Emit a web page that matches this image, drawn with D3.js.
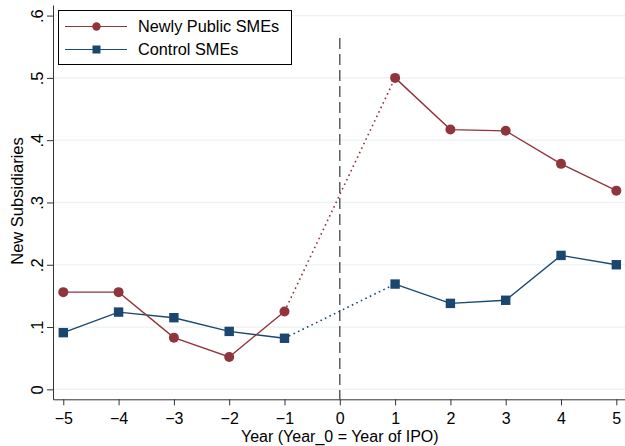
<!DOCTYPE html>
<html>
<head>
<meta charset="utf-8">
<script src="https://cdn.jsdelivr.net/npm/d3@7"></script>
<style>
  body { margin: 0; background: #fff; }
  svg { display: block; font-family: "Liberation Sans", Arial, sans-serif; }
</style>
</head>
<body>
<svg id="chart" width="625" height="446"></svg>
<script>
// years relative to IPO
const years = [-5, -4, -3, -2, -1, 1, 2, 3, 4, 5];
const newlyPublic = [0.156, 0.156, 0.083, 0.052, 0.125, 0.500, 0.417, 0.415, 0.362, 0.319];
const controlSMEs = [0.091, 0.124, 0.115, 0.093, 0.082, 0.169, 0.138, 0.143, 0.215, 0.200];
const xTicks = [-5, -4, -3, -2, -1, 0, 1, 2, 3, 4, 5];
const yTicks = [0, 0.1, 0.2, 0.3, 0.4, 0.5, 0.6];
const yTickLabels = ["0", ".1", ".2", ".3", ".4", ".5", ".6"];

const RED = "#90353b";
const BLUE = "#1a476f";
const GRID = "#eaf2f3";
const AXIS = "#333";
const FONT = "Liberation Sans, Arial, sans-serif";

const svg = d3.select("#chart");

const x = d3.scaleLinear().domain([-5.186, 5.157]).range([53, 625]);
const y = d3.scaleLinear().domain([-0.016, 0.617]).range([399.3, 5]);

// gridlines
svg.append("g")
    .selectAll("line")
    .data(yTicks)
    .enter().append("line")
    .attr("x1", 53)
    .attr("x2", 625)
    .attr("y1", d => y(d))
    .attr("y2", d => y(d))
    .attr("stroke", GRID)
    .attr("stroke-width", 1.2);

// x axis
const xAxis = svg.append("g")
    .attr("transform", `translate(0,${y.range()[0]})`)
    .call(d3.axisBottom(x).tickValues(xTicks).tickSize(6).tickSizeOuter(0).tickFormat(d3.format("d")));
xAxis.attr("font-size", 16).attr("font-family", FONT);
xAxis.selectAll("path, line").attr("stroke", AXIS);
xAxis.selectAll("text")
    .attr("fill", "#000")
    .attr("y", 24.5)
    .attr("dy", null);

// y axis
const yAxis = svg.append("g")
    .attr("transform", `translate(${x.range()[0]},0)`)
    .call(d3.axisLeft(y).tickValues(yTicks).tickSize(6).tickSizeOuter(0)
        .tickFormat((d, i) => yTickLabels[i]));
yAxis.attr("font-size", 16.5).attr("font-family", FONT);
yAxis.selectAll("path, line").attr("stroke", AXIS);
yAxis.selectAll("text")
    .attr("fill", "#000")
    .attr("text-anchor", "middle")
    .attr("x", null)
    .attr("dy", null)
    .attr("transform", "translate(-10.5,0) rotate(-90)");

// IPO year marker
svg.append("line")
    .attr("x1", x(0))
    .attr("x2", x(0))
    .attr("y1", 38)
    .attr("y2", y.range()[0])
    .attr("stroke", "#444")
    .attr("stroke-width", 1.3)
    .attr("stroke-dasharray", "11,5");

function drawSeries(values, color, shape) {
    const pts = years.map((yr, i) => ({ yr, v: values[i] }));
    const pre = pts.filter(p => p.yr < 0);
    const post = pts.filter(p => p.yr > 0);
    const bridge = [pre[pre.length - 1], post[0]];
    const line = d3.line().x(p => x(p.yr)).y(p => y(p.v));

    [pre, post].forEach(seg => {
        svg.append("path")
            .datum(seg)
            .attr("fill", "none")
            .attr("stroke", color)
            .attr("stroke-width", 1.4)
            .attr("d", line);
    });
    svg.append("path")
        .datum(bridge)
        .attr("fill", "none")
        .attr("stroke", color)
        .attr("stroke-width", 1.6)
        .attr("stroke-dasharray", "1.6,3.4")
        .attr("d", line);

    if (shape === "circle") {
        svg.append("g").selectAll("circle")
            .data(pts)
            .enter().append("circle")
            .attr("cx", p => x(p.yr))
            .attr("cy", p => y(p.v))
            .attr("r", 5)
            .attr("fill", color);
    } else {
        svg.append("g").selectAll("rect")
            .data(pts)
            .enter().append("rect")
            .attr("x", p => x(p.yr) - 4.7)
            .attr("y", p => y(p.v) - 4.7)
            .attr("width", 9.4)
            .attr("height", 9.4)
            .attr("fill", color);
    }
}

drawSeries(controlSMEs, BLUE, "square");
drawSeries(newlyPublic, RED, "circle");

// legend
const legend = svg.append("g");
legend.append("rect")
    .attr("x", 58.5)
    .attr("y", 10.5)
    .attr("width", 233)
    .attr("height", 54)
    .attr("fill", "#fff")
    .attr("stroke", "#000")
    .attr("stroke-width", 1);
const legendItems = [
    { label: "Newly Public SMEs", color: RED, shape: "circle" },
    { label: "Control SMEs", color: BLUE, shape: "square" }
];
legendItems.forEach((item, i) => {
    const ly = 26.5 + i * 23;
    legend.append("line")
        .attr("x1", 65).attr("x2", 127)
        .attr("y1", ly).attr("y2", ly)
        .attr("stroke", item.color)
        .attr("stroke-width", 1.2);
    if (item.shape === "circle") {
        legend.append("circle")
            .attr("cx", 96.5).attr("cy", ly).attr("r", 4.2)
            .attr("fill", item.color);
    } else {
        legend.append("rect")
            .attr("x", 92.5).attr("y", ly - 4).attr("width", 8).attr("height", 8)
            .attr("fill", item.color);
    }
    legend.append("text")
        .attr("x", 138)
        .attr("y", ly)
        .attr("dy", "0.36em")
        .attr("font-size", "16.3px")
        .attr("fill", "#000")
        .text(item.label);
});

// axis titles
svg.append("text")
    .attr("x", x(0))
    .attr("y", 441.5)
    .attr("text-anchor", "middle")
    .attr("font-size", "16px")
    .attr("fill", "#000")
    .text("Year (Year_0 = Year of IPO)");

svg.append("text")
    .attr("transform", "rotate(-90)")
    .attr("x", -201)
    .attr("y", 22.5)
    .attr("text-anchor", "middle")
    .attr("font-size", "16.5px")
    .attr("fill", "#000")
    .text("New Subsidiaries");
</script>
</body>
</html>
